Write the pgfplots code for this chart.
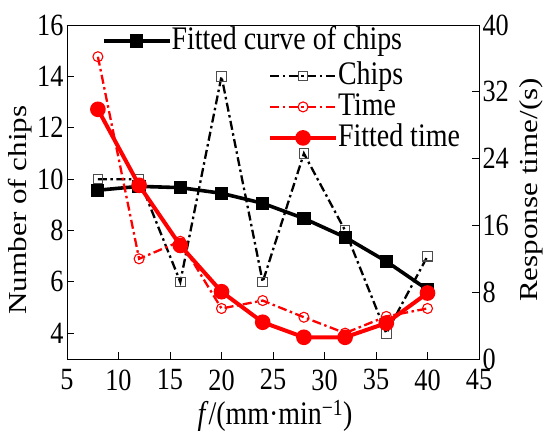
\documentclass[border=0pt]{standalone}
\usepackage{fontspec}
\setmainfont{Liberation Serif}[FakeStretch=0.85]
\newfontfamily\rotfont{Liberation Serif}[FakeStretch=1.2]
\usepackage{pgfplots}
\pgfplotsset{compat=1.18}
\pgfplotstableread{
x y
8 10
12 10
16 6
20 14
24 6
28 11
32 8
36 4
40 7
}\chips
\pgfplotstableread{
x y
8 9.57
12 9.72
16 9.67
20 9.45
24 9.06
28 8.47
32 7.74
36 6.80
40 5.70
}\fitchips
\pgfplotstableread{
x y
8 36.2
12 12.0
16 14.1
20 6.05
24 7.0
28 5.0
32 3.1
36 5.1
40 6.05
}\tim
\pgfplotstableread{
x y
8 29.9
12 20.8
16 13.6
20 8.06
24 4.4
28 2.6
32 2.6
36 4.3
40 7.9
}\fittime
\pgfplotsset{
  common/.style={
    scale only axis, width=412bp, height=334bp,
    at={(0,0)}, anchor=south west,
    xmin=5, xmax=45,
    tick align=inside, major tick length=7bp,
    axis line style={line width=0.9bp}, tick style={line width=0.9bp, black},
    /pgf/number format/assume math mode=true,
    ticklabel style={font=\fontsize{31}{31}\selectfont},
    legend image code/.code={\draw[##1, mark repeat=2, mark phase=2] plot coordinates {(0bp,0bp) (33bp,0bp) (66bp,0bp)};},
    legend style={draw=none, fill=none, inner sep=0pt, outer sep=0pt,
      font=\fontsize{33}{33}\selectfont, row sep=0pt,
      cells={anchor=west},
      nodes={inner sep=0pt, text height=24bp, text depth=7bp},
      /tikz/every even column/.append style={column sep=6bp}},
  },
  dashdot/.style={dash pattern=on 9bp off 3.5bp on 2.5bp off 3.5bp, line width=2.3bp},
}
\begin{document}
\begin{tikzpicture}
\begin{axis}[common,
  ymin=3, ymax=16, ytick={4,6,...,16}, xtick={5,10,...,45},
  xtick pos=bottom, ytick pos=left,
  xticklabel style={yshift=-7bp},
  xlabel={\textit{f}/(mm·min\textsuperscript{−1})},
  ylabel={\rotfont\fontsize{26}{26}\selectfont Number of chips},
  every axis x label/.style={at={(axis description cs:0.505,-0.171)}, anchor=center, font=\fontsize{33}{33}\selectfont},
  every axis y label/.style={at={(axis description cs:-0.114,0.446)}, rotate=90, anchor=center},
  legend style={at={(axis description cs:0.085,0.9985)}, anchor=north west},
]
\addplot[black, dashdot, mark=square, mark size=4.8bp, mark options={solid, draw=black!70, fill=white, line width=1.1bp}, forget plot] table {\chips};
\addplot[black, line width=3.6bp, mark=square*, mark size=4.8bp, mark options={solid}] table {\fitchips};
\addlegendentry{Fitted curve of chips}
\end{axis}
\begin{axis}[common,
  ymin=0, ymax=40, ytick={0,8,...,40},
  hide x axis, axis y line*=right, ytick pos=right,
  ylabel={\rotfont\fontsize{26}{26}\selectfont Response time/(s)},
  every axis y label/.style={at={(axis description cs:1.126,0.506)}, rotate=90, anchor=center},
  legend style={at={(axis description cs:0.488,0.894)}, anchor=north west},
]
\addlegendimage{black, dashdot, mark=square, mark size=4.8bp, mark options={solid, draw=black!70, fill=white, line width=1.1bp}}
\addlegendentry{Chips}
\addplot[red, dashdot, mark=o, mark size=5bp, mark options={solid, fill=white, line width=1.1bp}] table {\tim};
\addlegendentry{Time}
\addplot[red, line width=4bp, mark=*, mark size=5.8bp, mark options={solid}] table {\fittime};
\addlegendentry{Fitted time}
\end{axis}
\pgfresetboundingbox
\path (-67bp,-73bp) rectangle (483bp,359bp);
\end{tikzpicture}
\end{document}
